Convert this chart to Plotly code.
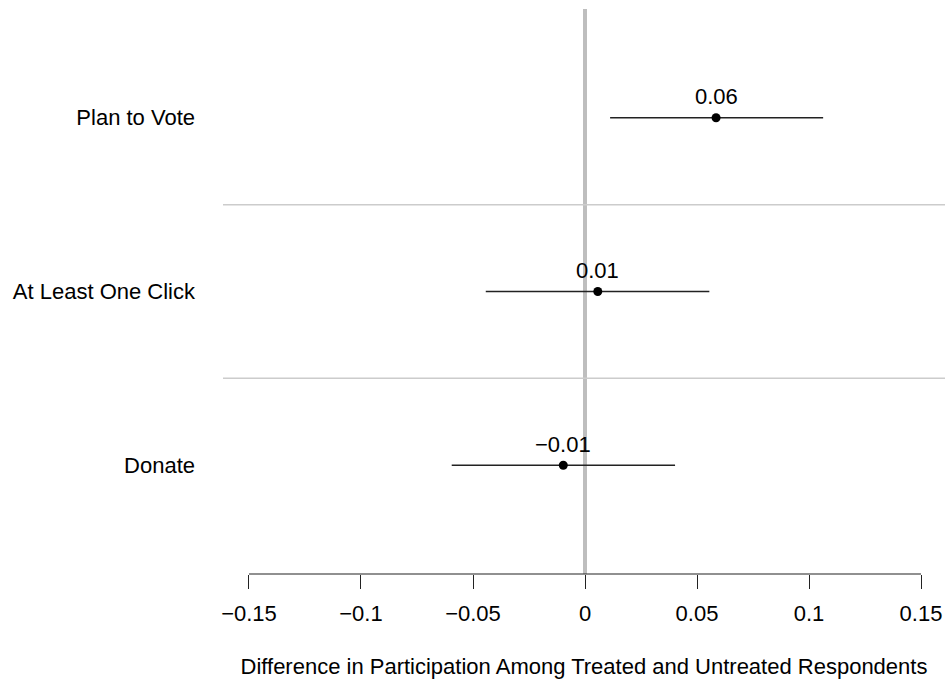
import plotly.graph_objects as go

outcomes = ["Plan to Vote", "At Least One Click", "Donate"]
estimates = [0.0585, 0.0057, -0.0097]
ci_low = [0.0112, -0.0443, -0.0595]
ci_high = [0.1063, 0.0555, 0.0402]
row_pos = [3, 2, 1]
x_ticks = [-0.15, -0.1, -0.05, 0, 0.05, 0.1, 0.15]
x_ticktext = ["\u22120.15", "\u22120.1", "\u22120.05", "0", "0.05", "0.1", "0.15"]
separators = [1.5, 2.5]

FONT = "Liberation Sans, Arial, sans-serif"
FS = 22

fig = go.Figure()

# zero reference line
fig.add_shape(type="line", x0=0, x1=0, xref="x", y0=0, y1=1, yref="paper",
              line=dict(color="#bebebe", width=4), layer="below")
# row separators
for s in separators:
    fig.add_shape(type="line", x0=0, x1=1, xref="paper", y0=s, y1=s, yref="y",
                  line=dict(color="#cccccc", width=1.5), layer="below")
# bottom axis line (from first to last tick)
fig.add_shape(type="line", x0=x_ticks[0], x1=x_ticks[-1], xref="x", y0=0, y1=0, yref="paper",
              line=dict(color="#222222", width=1.2))

# confidence intervals
for lo, hi, y in zip(ci_low, ci_high, row_pos):
    fig.add_trace(go.Scatter(x=[lo, hi], y=[y, y], mode="lines",
                             line=dict(color="#222222", width=1.3),
                             showlegend=False, hoverinfo="skip"))

fig.add_trace(go.Scatter(x=estimates, y=row_pos, mode="markers",
                         marker=dict(color="black", size=9),
                         showlegend=False))

def fmt(v):
    s = f"{v:.2f}"
    return s.replace("-", "\u2212")

for e, y in zip(estimates, row_pos):
    fig.add_annotation(x=e, y=y, text=fmt(e), showarrow=False, yshift=21,
                       font=dict(family=FONT, size=FS, color="black"))

fig.update_xaxes(range=[-0.1616, 0.1607], tickvals=x_ticks, ticktext=x_ticktext,
                 showgrid=False, zeroline=False, showline=False, automargin=False,
                 ticks="outside", ticklen=14, tickwidth=1.2, tickcolor="#222222",
                 ticklabelstandoff=6,
                 tickfont=dict(family=FONT, size=FS, color="black"),
                 title=dict(text="Difference in Participation Among Treated and Untreated Respondents",
                            font=dict(family=FONT, size=FS, color="black"), standoff=33))
fig.update_yaxes(range=[0.374, 3.626], tickvals=row_pos, ticktext=outcomes,
                 showgrid=False, zeroline=False, showline=False, ticks="", automargin=False,
                 ticklabelstandoff=27,
                 tickfont=dict(family=FONT, size=FS, color="black"))

fig.update_layout(width=945, height=683, margin=dict(l=223, r=0, t=9, b=109),
                  plot_bgcolor="white", paper_bgcolor="white",
                  font=dict(family=FONT, size=FS, color="black"))

# remove the default 8px page margin so the figure fills the window exactly
fig.write_html("out.html", config={"displayModeBar": False},
               post_script="document.body.style.margin='0';document.body.style.overflow='hidden';")
